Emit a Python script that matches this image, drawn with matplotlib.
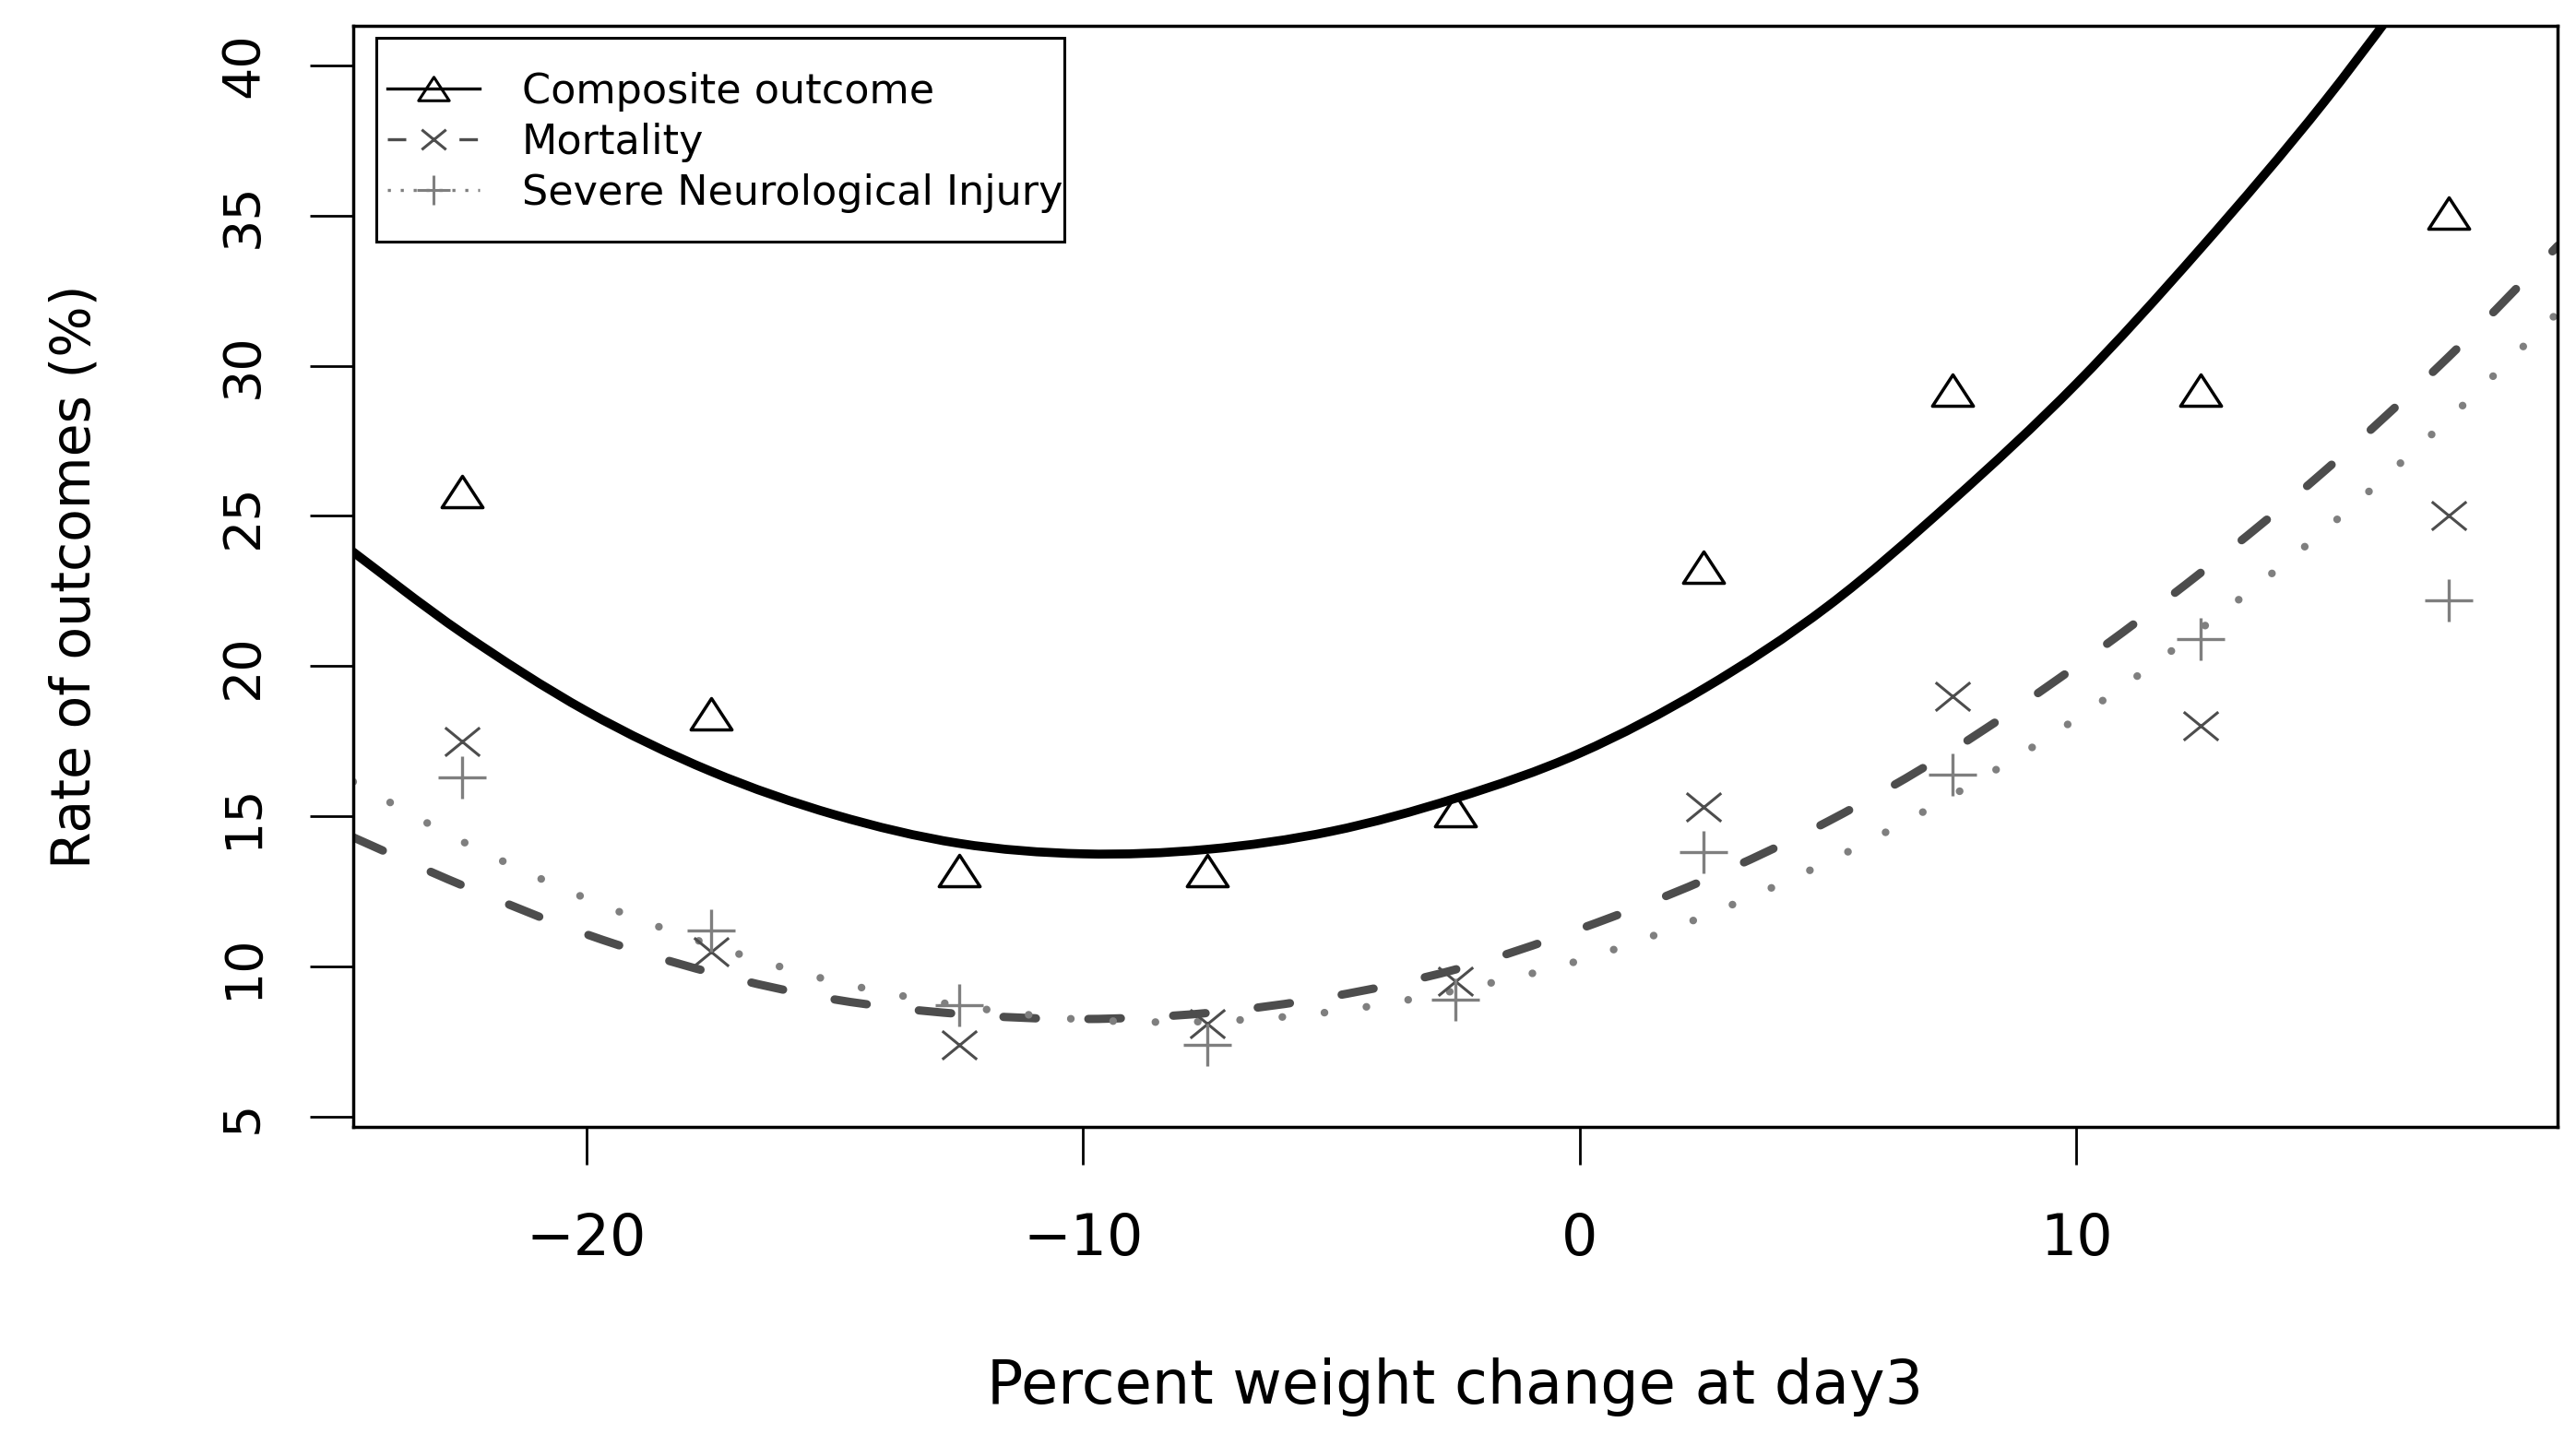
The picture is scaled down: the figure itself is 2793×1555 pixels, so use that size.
import numpy as np
import matplotlib
matplotlib.use('Agg')
import matplotlib.pyplot as plt
from matplotlib.path import Path
from matplotlib.patches import Rectangle, PathPatch

plt.rcParams['font.family'] = ['DejaVu Sans']

# observed rates (%) per weight-change bin
bin_mid = [-22.5, -17.5, -12.5, -7.5, -2.5, 2.5, 7.5, 12.5, 17.5]
composite = [25.8, 18.4, 13.2, 13.2, 15.2, 23.3, 29.2, 29.2, 35.1]
mortality = [17.5, 10.5, 7.4, 8.1, 9.5, 15.3, 19.0, 18.0, 25.0]
neuro = [16.3, 11.2, 8.7, 7.4, 8.9, 13.8, 16.4, 20.9, 22.2]

# fitted curves
fit_x = [-24.7, -22.5, -20, -17.5, -15, -12.5, -10, -7.5, -5, -2.5,
         0, 2.5, 5, 7.5, 10, 12.5, 15, 17.5, 19.7]
composite_fit = [23.8, 21.1, 18.5, 16.5, 15.05, 14.1, 13.75, 13.9, 14.5, 15.6,
                 17.1, 19.25, 22.0, 25.5, 29.4, 33.9, 38.8, 44.3]
mortality_fit = [14.3, 12.7, 11.07, 9.8, 8.9, 8.42, 8.25, 8.45, 9.0, 9.9,
                 11.25, 12.87, 14.83, 17.2, 20.0, 23.1, 26.5, 30.3, 34.0]
neuro_fit = [16.15, 14.16, 12.26, 10.72, 9.5, 8.7, 8.23, 8.17, 8.49, 9.2,
             10.2, 11.67, 13.49, 15.69, 18.25, 21.23, 24.53, 28.24, 31.78]

legend_labels = ['Composite outcome', 'Mortality', 'Severe Neurological Injury']

# marker shapes (R style, a bit wide)
tri = Path([(-1, -0.766), (1, -0.766), (0, 0.766), (-1, -0.766)], closed=True)
cross = Path([(-1, -0.82), (1, 0.82), (-1, 0.82), (1, -0.82)],
             [Path.MOVETO, Path.LINETO, Path.MOVETO, Path.LINETO])
plus = Path([(-1, 0), (1, 0), (0, -0.88), (0, 0.88)],
            [Path.MOVETO, Path.LINETO, Path.MOVETO, Path.LINETO])

dark = '#4d4d4d'
mid = '#7f7f7f'


def smooth_path(xs, ys):
    # Catmull-Rom through the read points, as cubic Bezier segments
    pts = np.column_stack([xs, ys]).astype(float)
    p = np.vstack([pts[0], pts, pts[-1]])
    verts = [pts[0]]
    codes = [Path.MOVETO]
    for i in range(1, len(p) - 2):
        c1 = p[i] + (p[i + 1] - p[i - 1]) / 6
        c2 = p[i + 1] - (p[i + 2] - p[i]) / 6
        verts += [c1, c2, p[i + 1]]
        codes += [Path.CURVE4] * 3
    return Path(verts, codes)


fig = plt.figure(figsize=(27.93, 15.55), dpi=100)
ax = fig.add_axes([0.1371, 0.2142, 0.8557, 0.7678])

ax.add_patch(PathPatch(smooth_path(fit_x[:len(composite_fit)], composite_fit),
                       fill=False, ec='black', lw=7, capstyle='round'))
ax.add_patch(PathPatch(smooth_path(fit_x, mortality_fit), fill=False, ec=dark,
                       lw=6.5, linestyle=(0, (3.9, 6.3)), capstyle='round'))
ax.add_patch(PathPatch(smooth_path(fit_x, neuro_fit), fill=False, ec=mid,
                       lw=6, linestyle=(0, (0.01, 5.5)), capstyle='round'))

ax.plot(bin_mid, composite, ls='none', marker=tri, ms=32, mfc='none',
        mec='black', mew=2.5)
ax.plot(bin_mid, mortality, ls='none', marker=cross, ms=27, mfc='none',
        mec=dark, mew=2.2)
ax.plot(bin_mid, neuro, ls='none', marker=plus, ms=37, mfc='none',
        mec=mid, mew=2.4)

ax.set_xlim(-24.7, 19.69)
ax.set_ylim(4.66, 41.32)
ax.set_xticks([-20, -10, 0, 10])
ax.set_yticks(np.arange(5, 41, 5))
ax.tick_params(axis='x', length=29.5, width=2, pad=37, labelsize=44.5)
ax.tick_params(axis='y', length=33.5, width=2, pad=33, labelsize=40,
               labelrotation=90)
for lab in ax.get_yticklabels():
    lab.set_va('center')
for sp in ax.spines.values():
    sp.set_linewidth(2.5)

ax.set_xlabel('Percent weight change at day3', fontsize=47)
ax.xaxis.set_label_coords(0.5, -0.2098)
ax.set_ylabel('Rate of outcomes (%)', fontsize=42)
ax.yaxis.set_label_coords(-0.1142, 0.5)

# legend box drawn by hand, R style
ax.add_patch(Rectangle((0.01046, 0.804), 0.31214, 0.1851, transform=ax.transAxes,
                       fill=False, ec='black', lw=2.2))
rows = [0.943, 0.8966, 0.8509]
ax.plot([0.0155, 0.0573], [rows[0]] * 2, transform=ax.transAxes, color='black',
        lw=2.4)
ax.plot([0.0364], [rows[0]], transform=ax.transAxes, marker=tri, ms=24,
        mfc='none', mec='black', mew=2.2)
ax.plot([0.0155, 0.0573], [rows[1]] * 2, transform=ax.transAxes, color=dark,
        lw=2.4, linestyle=(0, (6, 17.3)))
ax.plot([0.0364], [rows[1]], transform=ax.transAxes, marker=cross, ms=19,
        mfc='none', mec=dark, mew=2.2)
ax.plot([0.0155, 0.0573], [rows[2]] * 2, transform=ax.transAxes, color=mid,
        lw=2.4, linestyle=(0, (1, 3.2)))
ax.plot([0.0364], [rows[2]], transform=ax.transAxes, marker=plus, ms=26,
        mfc='none', mec=mid, mew=2.2)
for y, lab in zip(rows, legend_labels):
    ax.text(0.0766, y - 0.0134, lab, transform=ax.transAxes, fontsize=32,
            va='baseline', ha='left')

fig.savefig('out.png', dpi=100)
